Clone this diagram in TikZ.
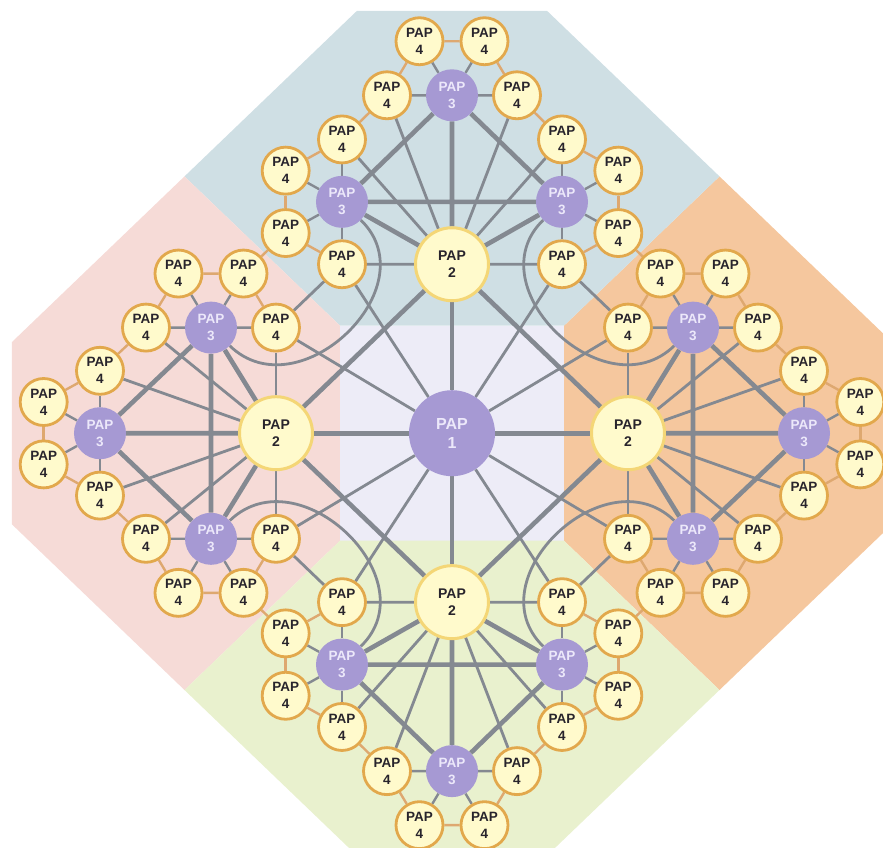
\documentclass[tikz,border=0pt]{standalone}
\usepackage{fontspec}
\setmainfont{Liberation Sans}
\usetikzlibrary{calc}

\definecolor{papgold}{RGB}{226,168,76}
\definecolor{papcream}{RGB}{255,250,204}
\definecolor{papstraw}{RGB}{244,214,118}
\definecolor{paplilac}{RGB}{166,153,211}
\definecolor{papwhite}{RGB}{236,232,250}
\definecolor{papink}{RGB}{40,36,44}
\definecolor{wiregray}{RGB}{132,137,145}
\definecolor{wiretan}{RGB}{222,168,112}
\definecolor{zonetop}{RGB}{207,223,228}
\definecolor{zoneleft}{RGB}{246,219,215}
\definecolor{zoneright}{RGB}{245,199,158}
\definecolor{zonebottom}{RGB}{233,241,206}
\definecolor{zonemid}{RGB}{237,236,247}

\pgfdeclarelayer{zones}
\pgfdeclarelayer{wires}
\pgfsetlayers{zones,wires,main}

% one PAP 2 with its three PAP 3 and the ring of PAP 4, turned by #2
\newcommand{\papcluster}[2]{%
  \begin{scope}[rotate=#2]
    \node[paptwo] (#1) at (176,0) {PAP\\2};
    \node[papthree] (#1-a) at (241,-110) {PAP\\3};
    \node[papthree] (#1-f) at (352,0) {PAP\\3};
    \node[papthree] (#1-b) at (241,110) {PAP\\3};
    \foreach \k/\ux/\vy in {1/176/-110, 2/208.5/-166.3, 3/273.5/-166.3, 4/306/-110,
        5/352/-65, 6/408.3/-32.5, 7/408.3/32.5, 8/352/65,
        9/306/110, 10/273.5/166.3, 11/208.5/166.3, 12/176/110}
      \node[papfour] (#1-\k) at (\ux,\vy) {PAP\\4};
  \end{scope}
  \begin{pgfonlayer}{wires}
    \draw[trunk] (#1) -- (#1-a) (#1) -- (#1-f) (#1) -- (#1-b)
      (#1-a) -- (#1-f) (#1-f) -- (#1-b) (#1-a) -- (#1-b);
    \foreach \k in {1,4,5,8,9,12}
      \draw[spoke] (#1) -- (#1-\k);
    \foreach \k in {1,...,4} \draw[stub] (#1-a) -- (#1-\k);
    \foreach \k in {5,...,8} \draw[stub] (#1-f) -- (#1-\k);
    \foreach \k in {9,...,12} \draw[stub] (#1-b) -- (#1-\k);
    \foreach \k [evaluate=\k as \nk using int(\k+1)] in {1,...,11}
      \draw[link] (#1-\k) -- (#1-\nk);
  \end{pgfonlayer}}

\begin{document}
\begin{tikzpicture}[x=1pt, y=1pt, yscale=0.96,
    papone/.style={circle, fill=paplilac, minimum size=86pt, inner sep=0pt, align=center, text=papwhite, font=\bfseries\fontsize{16}{19}\selectfont},
    paptwo/.style={circle, fill=papcream, draw=papstraw, line width=3pt, minimum size=73pt, inner sep=0pt, align=center, text=papink, font=\bfseries\fontsize{14}{17}\selectfont},
    papthree/.style={circle, fill=paplilac, minimum size=52pt, inner sep=0pt, align=center, text=papwhite, font=\bfseries\fontsize{13.5}{17}\selectfont},
    papfour/.style={circle, fill=papcream, draw=papgold, line width=2.8pt, minimum size=47pt, inner sep=0pt, align=center, text=papink, font=\bfseries\fontsize{13.5}{17}\selectfont},
    trunk/.style={draw=wiregray, line width=4.6pt},
    spoke/.style={draw=wiregray, line width=2.8pt},
    stub/.style={draw=wiregray, line width=2.4pt},
    link/.style={draw=wiretan, line width=2.4pt}
  ]
  \useasboundingbox (-452,-431.25) rectangle (431,451.25);

  % Coloured zones
  \begin{pgfonlayer}{zones}
    \fill[zonemid] (-112,-112) rectangle (112,112);
    \foreach \ang/\col in {0/zoneright, 90/zonetop, 180/zoneleft, 270/zonebottom}
      \fill[\col, rotate=\ang] (112,-112) -- (267.5,-267.5) -- (440,-95) -- (440,95) -- (267.5,267.5) -- (112,112) -- cycle;
  \end{pgfonlayer}

  % PAP 1 and the four clusters
  \node[papone] (pap1) at (0,0) {PAP\\1};
  \papcluster{papE}{0}
  \papcluster{papN}{90}
  \papcluster{papW}{180}
  \papcluster{papS}{270}

  % Links between clusters
  \begin{pgfonlayer}{wires}
    \foreach \cl/\nb/\ang in {papE/papN/225, papN/papW/315, papW/papS/45, papS/papE/135} {
      \draw[trunk] (pap1) -- (\cl);
      \draw[trunk] (\cl) -- (\nb);
      \draw[spoke] (pap1) -- (\cl-1) (pap1) -- (\cl-12);
      \draw[spoke] (\cl-12) -- (\nb-1);
      \draw[link] (\cl-11) -- (\nb-2);
      \draw[spoke] (\cl-b) to[out=\ang, in=\ang, looseness=1.35] (\nb-a);
    }
  \end{pgfonlayer}
\end{tikzpicture}
\end{document}
